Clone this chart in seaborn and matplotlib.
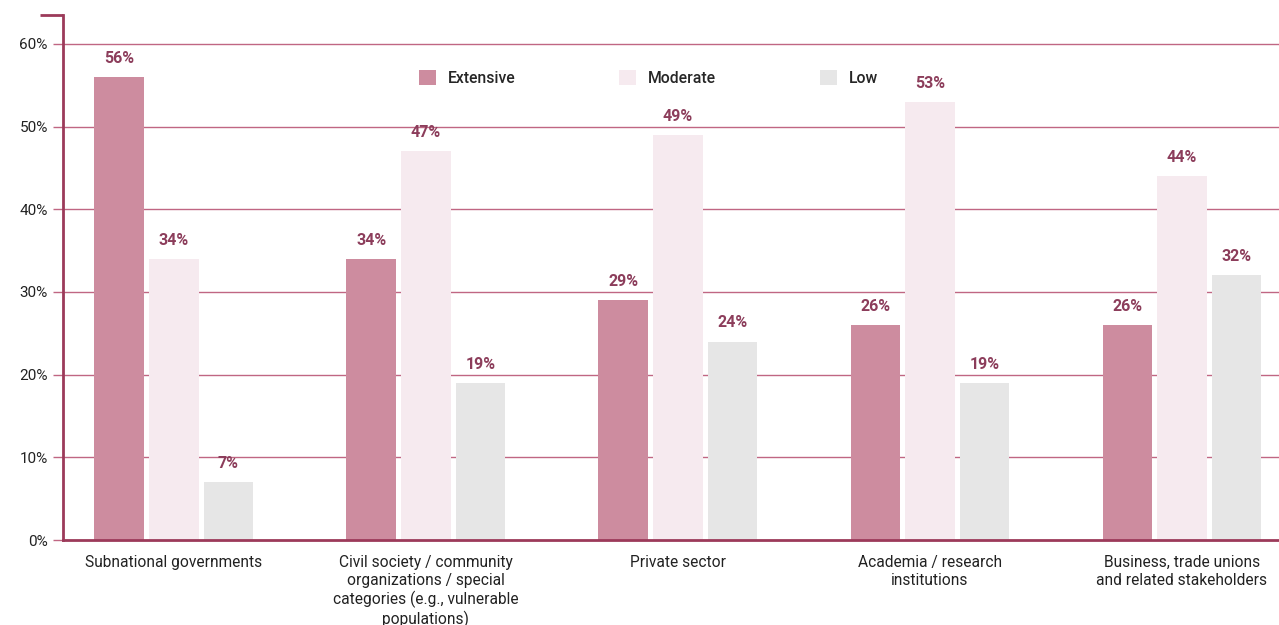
import matplotlib
matplotlib.use("Agg")
import matplotlib.pyplot as plt
import seaborn as sns
import pandas as pd

# Stakeholder engagement levels, share of respondents (%)
categories = [
    "Subnational governments",
    "Civil society / community\norganizations / special\ncategories (e.g., vulnerable\npopulations)",
    "Private sector",
    "Academia / research\ninstitutions",
    "Business, trade unions\nand related stakeholders",
]
levels = ["Extensive", "Moderate", "Low"]
extensive = [56, 34, 29, 26, 26]
moderate = [34, 47, 49, 53, 44]
low = [7, 19, 24, 19, 32]

palette = {"Extensive": "#cd8c9f", "Moderate": "#f6eaef", "Low": "#e6e6e6"}
label_color = "#8c3d5b"
axis_color = "#9c3a5a"
grid_color = "#c06683"

df = pd.DataFrame({
    "category": categories * 3,
    "level": [levels[0]] * 5 + [levels[1]] * 5 + [levels[2]] * 5,
    "value": extensive + moderate + low,
})

sns.set_theme(style="white")
plt.rcParams["font.family"] = ["Roboto", "DejaVu Sans"]

fig = plt.figure(figsize=(12.79, 6.25), dpi=100)
ax = fig.add_axes([63 / 1279, 85 / 625, 1216 / 1279, 525 / 625])

sns.barplot(data=df, x="category", y="value", hue="level", hue_order=levels,
            order=categories, palette=palette, width=0.65, gap=0.09,
            saturation=1, linewidth=0, ax=ax, zorder=2)

for container in ax.containers:
    ax.bar_label(container, labels=[f"{v:.0f}%" for v in container.datavalues],
                 padding=8, color=label_color, fontsize=11.5, fontweight="bold")

ax.set_ylim(0, 63.5)
ax.set_xlim(-0.44, 4.385)
ax.set_yticks(range(0, 61, 10))
ax.set_yticklabels([f"{t}%" for t in range(0, 61, 10)], fontsize=11, color="#222222")
ax.set_xticklabels(categories, fontsize=11.2, color="#222222", linespacing=1.22)
ax.set_xlabel("")
ax.set_ylabel("")

for t in range(10, 61, 10):
    ax.axhline(t, color=grid_color, lw=1, zorder=1)

ax.tick_params(axis="y", length=7, width=1, color=grid_color, pad=4, left=True)
ax.tick_params(axis="x", length=0, pad=11)

for side in ["top", "right"]:
    ax.spines[side].set_visible(False)
for side in ["left", "bottom"]:
    ax.spines[side].set_color(axis_color)
    ax.spines[side].set_linewidth(2)

# short cap at the top of the value axis
ax.plot([-23 / 1216, 0], [1, 1], transform=ax.transAxes, clip_on=False,
        color=axis_color, lw=2, solid_capstyle="butt")

handles, lbls = ax.get_legend_handles_labels()
leg = ax.legend(handles, lbls, ncol=3, frameon=False, loc="center left",
                bbox_to_anchor=(0.281, 0.88), handlelength=1.1, handleheight=1.1,
                handletextpad=0.75, columnspacing=6.6,
                prop={"size": 11.3, "weight": "medium"})
for h in leg.legend_handles:
    h.set_edgecolor("none")

fig.savefig("out.png", dpi=100)
